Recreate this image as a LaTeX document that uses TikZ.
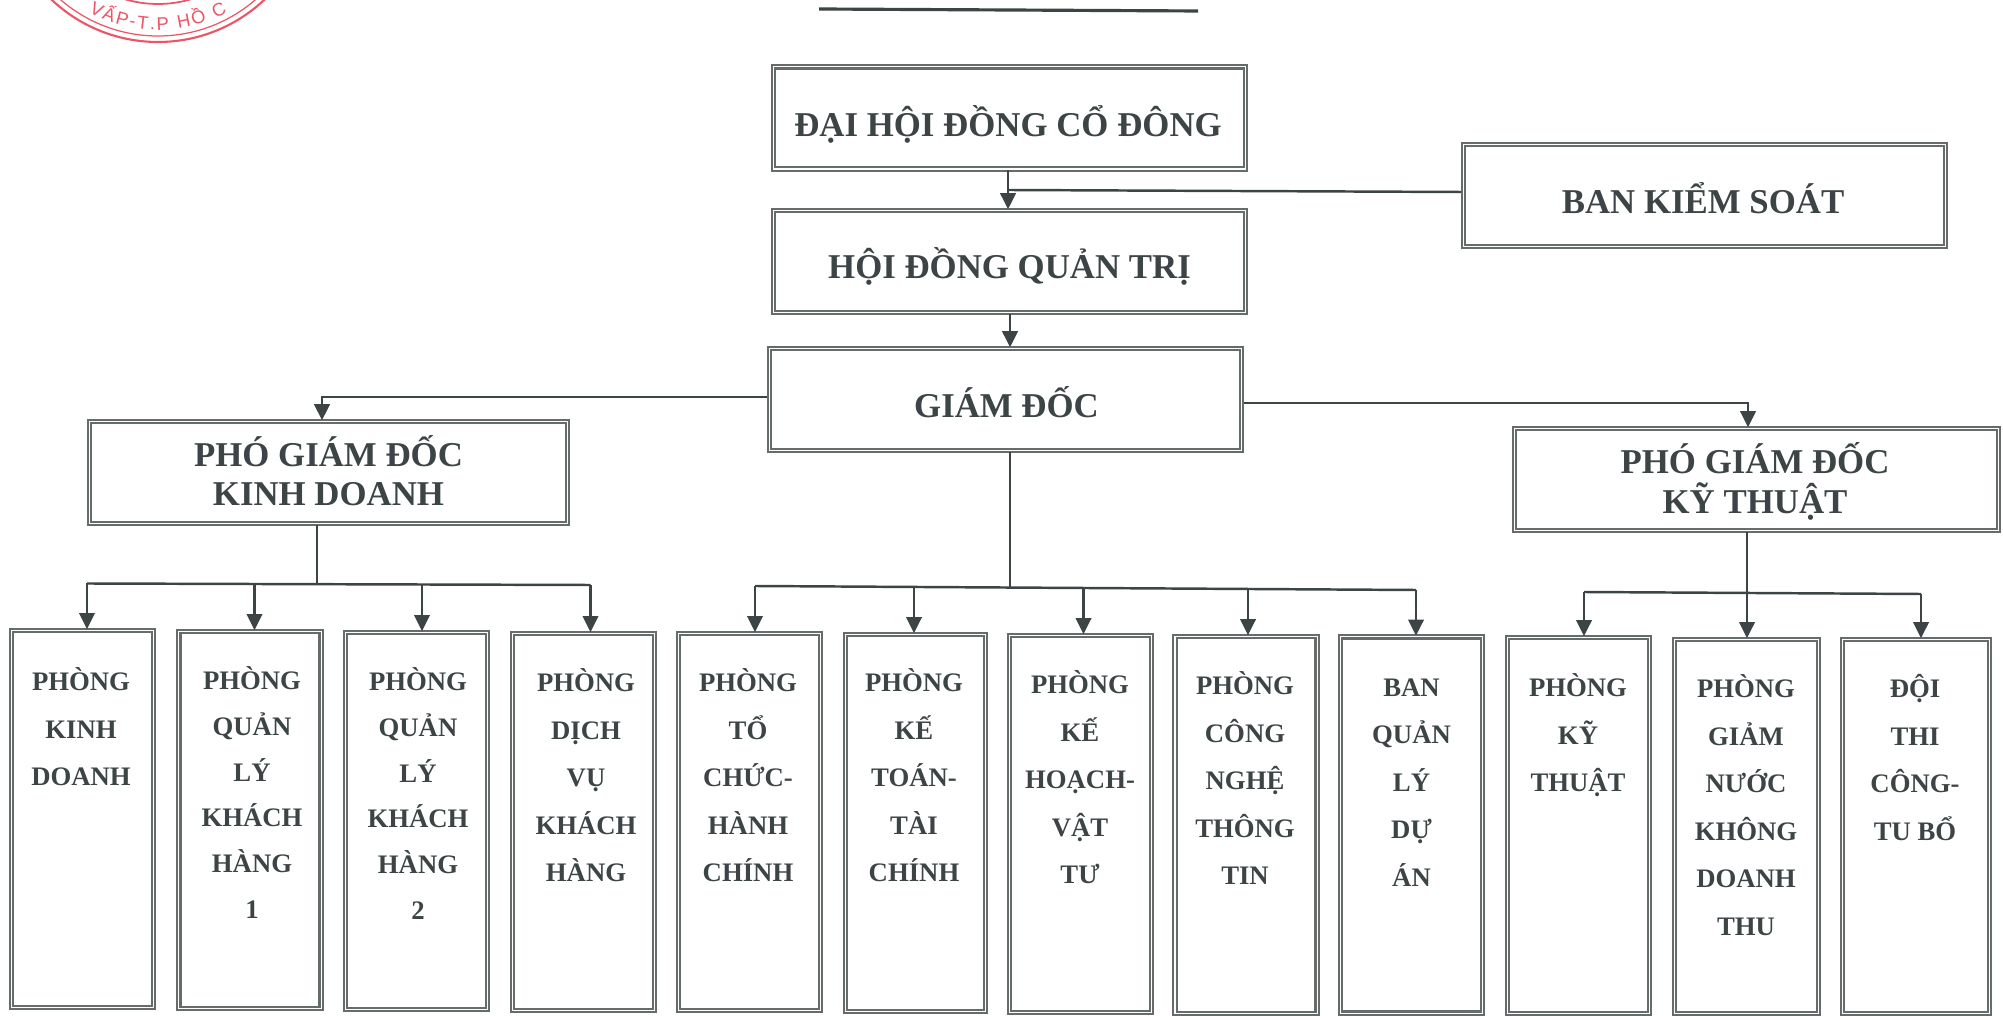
\documentclass[tikz,border=0pt]{standalone}
\usepackage{fontspec}
\setmainfont{Liberation Serif}
\newfontfamily\sealfont{Liberation Sans}
\usetikzlibrary{arrows.meta,decorations.text}
\definecolor{inkgray}{HTML}{3C4445}
\definecolor{framegray}{HTML}{666C6B}
\definecolor{sealred}{HTML}{EC5566}
\tikzset{
  bigbox/.style={draw=framegray,double=white,line width=0.65pt,double distance=0.3pt,minimum width=4.72cm,minimum height=1.02cm,inner sep=0pt},
  deptbox/.style={bigbox,minimum width=1.42cm,minimum height=3.77cm},
  bigtext/.style={inkgray,align=center,inner sep=0pt,font={\fontsize{9.9}{11.2}\selectfont\bfseries}},
  depttext/.style={inkgray,align=center,anchor=north,inner sep=0pt,font={\fontsize{7.6}{13.5}\selectfont\bfseries}},
  depttight/.style={depttext,font={\fontsize{7.6}{13}\selectfont\bfseries}},
  wire/.style={inkgray,line width=0.7pt},
  arrowwire/.style={wire,-{Triangle[length=4.6pt,width=4.4pt]}},
}
\begin{document}
\begin{tikzpicture}[x=0.01cm,y=-0.01cm]
  \useasboundingbox (0,0) rectangle (2003,1016);
  % Seal
  \coordinate (sealc) at (158,-113);
  \draw[sealred,line width=0.6pt] (sealc) circle (155);
  \draw[sealred,line width=0.35pt] (sealc) circle (149);
  \draw[sealred,line width=0.5pt] (sealc) circle (117);
  \path[decorate,decoration={text along path,text align={fit to path},
    text={|\sealfont\fontsize{5.2}{6}\selectfont\color{sealred}|VẤP-T.P HỒ C}}]
    (sealc) ++(119:143) arc[start angle=119,end angle=61,radius=143];
  % Rule under the title
  \coordinate (rulea) at (819,9);
  \coordinate (ruleb) at (1198,11);
  \draw[inkgray,line width=0.9pt] (rulea) -- (ruleb);
  % Upper boxes
  \node[bigbox] (daihoi) at (1009.5,118) {};
  \node[bigtext] (daihoit) at (1008,124) {ĐẠI HỘI ĐỒNG CỔ ĐÔNG};
  \node[bigbox] (hoidong) at (1009.5,261.5) {};
  \node[bigtext] (hoidongt) at (1009.5,266.5) {HỘI ĐỒNG QUẢN TRỊ};
  \node[bigbox] (giamdoc) at (1005.5,399.5) {};
  \node[bigtext] (giamdoct) at (1006.5,402.5) {GIÁM ĐỐC};
  \node[bigbox,minimum width=4.82cm] (kiemsoat) at (1704.5,195.5) {};
  \node[bigtext] (kiemsoatt) at (1703,198.5) {BAN KIỂM SOÁT};
  \node[bigbox,minimum width=4.78cm] (phokd) at (328.5,472.5) {};
  \node[bigtext] (phokdt) at (328.5,470.5) {PHÓ GIÁM ĐỐC\\KINH DOANH};
  \node[bigbox,minimum width=4.84cm] (phokt) at (1756.5,479.5) {};
  \node[bigtext] (phoktt) at (1755,481.5) {PHÓ GIÁM ĐỐC\\KỸ THUẬT};
  % Departments
  \node[deptbox] (kinhdoanh) at (82.5,819) {};
  \node[deptbox] (quanly1) at (250,820) {};
  \node[deptbox] (quanly2) at (416.5,821) {};
  \node[deptbox] (dichvu) at (583.5,822) {};
  \node[deptbox] (tochuc) at (749.5,822) {};
  \node[deptbox,minimum width=1.40cm] (ketoan) at (915.5,823) {};
  \node[deptbox] (kehoach) at (1080.5,824) {};
  \node[deptbox] (congnghe) at (1246,825) {};
  \node[deptbox,minimum height=3.76cm] (duan) at (1411.5,825) {};
  \node[deptbox,minimum height=3.76cm] (kythuat) at (1578.5,825.5) {};
  \node[deptbox,minimum width=1.44cm,minimum height=3.74cm] (giamnuoc) at (1746.5,826.5) {};
  \node[deptbox,minimum width=1.47cm,minimum height=3.74cm] (thicong) at (1916,826.5) {};
  \node[depttext] (kinhdoanht) at (81,667) {PHÒNG\\KINH\\DOANH};
  \node[depttight] (quanly1t) at (252,666) {PHÒNG\\QUẢN\\LÝ\\KHÁCH\\HÀNG\\1};
  \node[depttight] (quanly2t) at (418,667) {PHÒNG\\QUẢN\\LÝ\\KHÁCH\\HÀNG\\2};
  \node[depttext] (dichvut) at (586,668) {PHÒNG\\DỊCH\\VỤ\\KHÁCH\\HÀNG};
  \node[depttext] (tochuct) at (748,668) {PHÒNG\\TỔ\\CHỨC-\\HÀNH\\CHÍNH};
  \node[depttext] (ketoant) at (914,668) {PHÒNG\\KẾ\\TOÁN-\\TÀI\\CHÍNH};
  \node[depttext] (kehoacht) at (1080,670) {PHÒNG\\KẾ\\HOẠCH-\\VẬT\\TƯ};
  \node[depttext] (congnghet) at (1245,671) {PHÒNG\\CÔNG\\NGHỆ\\THÔNG\\TIN};
  \node[depttext] (duant) at (1411.5,678) {BAN\\QUẢN\\LÝ\\DỰ\\ÁN};
  \node[depttext] (kythuatt) at (1578,673) {PHÒNG\\KỸ\\THUẬT};
  \node[depttext] (giamnuoct) at (1746,674) {PHÒNG\\GIẢM\\NƯỚC\\KHÔNG\\DOANH\\THU};
  \node[depttext] (thicongt) at (1915,674) {ĐỘI\\THI\\CÔNG-\\TU BỔ};
  % Upper connectors
  \coordinate (topdrop) at (1008,171);
  \coordinate (joinks) at (1008,190);
  \coordinate (ksout) at (1461,192);
  \coordinate (middrop) at (1010,315);
  \draw[arrowwire] (topdrop |- daihoi.south) -- (topdrop |- hoidong.north);
  \draw[wire] (ksout) -- (joinks);
  \draw[arrowwire] (middrop |- hoidong.south) -- (middrop |- giamdoc.north);
  \coordinate (gdleft) at (767,397);
  \coordinate (gdright) at (1244,403);
  \coordinate (phokdin) at (322,398);
  \coordinate (phoktin) at (1748,402);
  \draw[arrowwire] (gdleft) -| (phokdin |- phokd.north);
  \draw[arrowwire] (gdright) -| (phoktin |- phokt.north);
  % Left branch
  \coordinate (busa) at (87,583.5);
  \coordinate (busb) at (254.5,584);
  \coordinate (busc) at (422,584.5);
  \coordinate (busd) at (590.5,585);
  \coordinate (busm) at (317,584);
  \draw[wire] (busa) -- (busd);
  \draw[wire] (busm |- phokd.south) -- (busm);
  \draw[arrowwire] (busa) -- (busa |- kinhdoanh.north);
  \draw[arrowwire] (busb) -- (busb |- quanly1.north);
  \draw[arrowwire] (busc) -- (busc |- quanly2.north);
  \draw[arrowwire] (busd) -- (busd |- dichvu.north);
  % Middle branch
  \coordinate (buse) at (755,586);
  \coordinate (busf) at (914,587);
  \coordinate (busg) at (1083.5,588);
  \coordinate (bush) at (1248,589);
  \coordinate (busi) at (1416,590);
  \coordinate (busn) at (1010,587.5);
  \draw[wire] (buse) -- (busi);
  \draw[wire] (busn |- giamdoc.south) -- (busn);
  \draw[arrowwire] (buse) -- (buse |- tochuc.north);
  \draw[arrowwire] (busf) -- (busf |- ketoan.north);
  \draw[arrowwire] (busg) -- (busg |- kehoach.north);
  \draw[arrowwire] (bush) -- (bush |- congnghe.north);
  \draw[arrowwire] (busi) -- (busi |- duan.north);
  % Right branch
  \coordinate (busj) at (1584,592);
  \coordinate (busk) at (1747,593);
  \coordinate (busl) at (1921,594);
  \draw[wire] (busj) -- (busl);
  \draw[arrowwire] (busk |- phokt.south) -- (busk |- giamnuoc.north);
  \draw[arrowwire] (busj) -- (busj |- kythuat.north);
  \draw[arrowwire] (busl) -- (busl |- thicong.north);
\end{tikzpicture}
\end{document}
